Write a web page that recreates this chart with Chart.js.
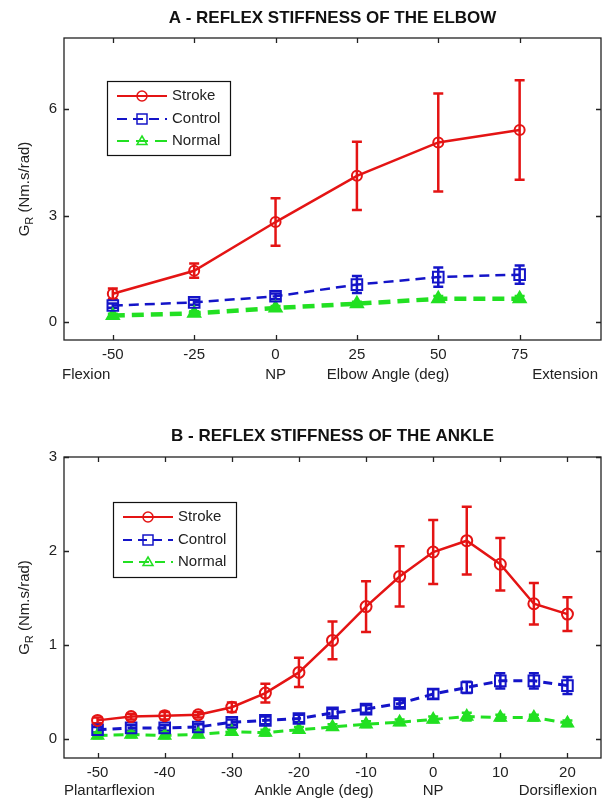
<!DOCTYPE html>
<html>
<head>
<meta charset="utf-8">
<script src="https://cdn.jsdelivr.net/npm/chart.js@4.4.1/dist/chart.umd.min.js"></script>
<style>
  body { margin: 0; background: #fff; width: 606px; height: 802px; overflow: hidden; }
  canvas { position: absolute; left: 0; }
  #elbowChart { top: 0; }
  #ankleChart { top: 410px; }
</style>
</head>
<body>
<canvas id="elbowChart" width="606" height="410"></canvas>
<canvas id="ankleChart" width="606" height="392"></canvas>
<script>
// ---- data: A - elbow ----
const elbowAngles = [-50, -25, 0, 25, 50, 75];
const elbowStroke = [0.80, 1.45, 2.82, 4.12, 5.06, 5.41];
const elbowStrokeErr = [0.15, 0.20, 0.67, 0.96, 1.38, 1.40];
const elbowControl = [0.47, 0.56, 0.73, 1.06, 1.27, 1.34];
const elbowControlErr = [0.06, 0.07, 0.08, 0.24, 0.27, 0.26];
const elbowNormal = [0.19, 0.25, 0.40, 0.52, 0.66, 0.66];
const elbowNormalErr = [0.05, 0.06, 0.06, 0.06, 0.08, 0.08];
const elbowXTicks = [-50, -25, 0, 25, 50, 75];
const elbowYTicks = [0, 3, 6];

// ---- data: B - ankle ----
const ankleAngles = [-50, -45, -40, -35, -30, -25, -20, -15, -10, -5, 0, 5, 10, 15, 20];
const ankleStroke = [0.20, 0.24, 0.25, 0.26, 0.34, 0.49, 0.71, 1.05, 1.41, 1.73, 1.99, 2.11, 1.86, 1.44, 1.33];
const ankleStrokeErr = [0.03, 0.03, 0.04, 0.03, 0.05, 0.10, 0.155, 0.20, 0.27, 0.32, 0.34, 0.36, 0.28, 0.22, 0.18];
const ankleControl = [0.10, 0.12, 0.12, 0.13, 0.18, 0.20, 0.22, 0.28, 0.32, 0.38, 0.48, 0.55, 0.62, 0.62, 0.57];
const ankleControlErr = [0.03, 0.03, 0.03, 0.03, 0.03, 0.04, 0.04, 0.04, 0.04, 0.04, 0.05, 0.06, 0.08, 0.08, 0.09];
const ankleNormal = [0.04, 0.05, 0.04, 0.05, 0.08, 0.07, 0.10, 0.13, 0.16, 0.18, 0.21, 0.24, 0.23, 0.23, 0.17];
const ankleNormalErr = [0.03, 0.03, 0.03, 0.03, 0.03, 0.03, 0.03, 0.03, 0.03, 0.03, 0.03, 0.04, 0.03, 0.03, 0.03];
const ankleXTicks = [-50, -40, -30, -20, -10, 0, 10, 20];
const ankleYTicks = [0, 1, 2, 3];

const seriesNames = ["Stroke", "Control", "Normal"];

const RED = "#e41414", BLUE = "#1414c8", GREEN = "#22e022";
const FONT = "'Liberation Sans', Arial, sans-serif";
Chart.defaults.font.family = FONT;

function drawMarker(ctx, style, x, y, r, color) {
  ctx.save();
  ctx.setLineDash([]);
  ctx.strokeStyle = color;
  ctx.lineWidth = 1.5;
  ctx.beginPath();
  if (style === "circle") ctx.arc(x, y, r, 0, Math.PI * 2);
  else if (style === "rect") ctx.rect(x - r, y - r, 2 * r, 2 * r);
  else { ctx.moveTo(x, y - r); ctx.lineTo(x + r, y + r * 0.7); ctx.lineTo(x - r, y + r * 0.7); ctx.closePath(); }
  ctx.stroke();
  ctx.restore();
}

function decoPlugin(cfg) {
  return {
    id: "deco",
    beforeDatasetsDraw(chart) {
      // error bars
      const ctx = chart.ctx, xs = chart.scales.x, ys = chart.scales.y;
      chart.data.datasets.forEach(ds => {
        ctx.save();
        ctx.strokeStyle = ds.borderColor;
        ctx.lineWidth = 2.5;
        ctx.setLineDash([]);
        ds.data.forEach((p, i) => {
          const e = ds.err[i];
          const px = xs.getPixelForValue(p.x);
          const y1 = ys.getPixelForValue(p.y - e), y2 = ys.getPixelForValue(p.y + e);
          ctx.beginPath();
          ctx.moveTo(px, y1); ctx.lineTo(px, y2);
          ctx.moveTo(px - 5, y1); ctx.lineTo(px + 5, y1);
          ctx.moveTo(px - 5, y2); ctx.lineTo(px + 5, y2);
          ctx.stroke();
        });
        ctx.restore();
      });
    },
    afterDraw(chart) {
      const ctx = chart.ctx, a = chart.chartArea, xs = chart.scales.x, ys = chart.scales.y;
      ctx.save();
      // frame + inner ticks
      ctx.strokeStyle = "#222";
      ctx.lineWidth = 1.3;
      ctx.setLineDash([]);
      ctx.strokeRect(a.left, a.top, a.right - a.left, a.bottom - a.top);
      ctx.beginPath();
      cfg.xTicks.forEach(v => {
        const px = Math.round(xs.getPixelForValue(v)) + 0.5;
        ctx.moveTo(px, a.bottom); ctx.lineTo(px, a.bottom - 5);
        ctx.moveTo(px, a.top); ctx.lineTo(px, a.top + 5);
      });
      cfg.yTicks.forEach(v => {
        const py = Math.round(ys.getPixelForValue(v)) + 0.5;
        ctx.moveTo(a.left, py); ctx.lineTo(a.left + 5, py);
        ctx.moveTo(a.right, py); ctx.lineTo(a.right - 5, py);
      });
      ctx.stroke();

      // title
      ctx.fillStyle = "#111";
      ctx.font = "bold 17px " + FONT;
      ctx.textAlign = "center";
      ctx.textBaseline = "middle";
      ctx.fillText(cfg.title, (a.left + a.right) / 2, cfg.titleY);

      // y label with subscript
      ctx.save();
      ctx.translate(29, (a.top + a.bottom) / 2);
      ctx.rotate(-Math.PI / 2);
      ctx.textBaseline = "alphabetic";
      ctx.textAlign = "left";
      ctx.fillStyle = "#222";
      const g = "G", sub = "R", rest = " (Nm.s/rad)";
      ctx.font = "15px " + FONT; const wG = ctx.measureText(g).width;
      ctx.font = "11px " + FONT; const wS = ctx.measureText(sub).width;
      ctx.font = "15px " + FONT; const wR = ctx.measureText(rest).width;
      const sx = -(wG + wS + wR) / 2;
      ctx.fillText(g, sx, 0);
      ctx.font = "11px " + FONT; ctx.fillText(sub, sx + wG, 4);
      ctx.font = "15px " + FONT; ctx.fillText(rest, sx + wG + wS, 0);
      ctx.restore();

      // second row of x labels
      ctx.fillStyle = "#222";
      ctx.font = "15px " + FONT;
      ctx.textBaseline = "middle";
      cfg.row2.forEach(l => {
        ctx.textAlign = l.align;
        const px = l.value !== undefined ? xs.getPixelForValue(l.value) : l.px;
        ctx.fillText(l.text, px, a.bottom + cfg.row2Dy);
      });

      // legend
      const L = cfg.legend;
      ctx.fillStyle = "#fff";
      ctx.fillRect(L.x, L.y, L.w, L.h);
      ctx.strokeStyle = "#111";
      ctx.lineWidth = 1.2;
      ctx.strokeRect(L.x + 0.5, L.y + 0.5, L.w, L.h);
      chart.data.datasets.forEach((ds, i) => {
        const ry = L.y + L.rows[i];
        ctx.strokeStyle = ds.borderColor;
        ctx.lineWidth = 2;
        ctx.setLineDash(ds.borderDash || []);
        ctx.beginPath();
        ctx.moveTo(L.x + 10, ry); ctx.lineTo(L.x + 60, ry);
        ctx.stroke();
        drawMarker(ctx, ds.pointStyle, L.x + 35, ry, 5, ds.borderColor);
        ctx.fillStyle = "#222";
        ctx.font = "15px " + FONT;
        ctx.textAlign = "left";
        ctx.textBaseline = "middle";
        ctx.fillText(ds.label, L.x + 65, ry);
      });
      ctx.restore();
    }
  };
}

function makeDataset(label, xs, ys, err, color, opts) {
  return Object.assign({
    label: label,
    data: xs.map((x, i) => ({ x: x, y: ys[i] })),
    err: err,
    borderColor: color,
    pointBorderColor: color,
    pointBackgroundColor: "rgba(255,255,255,0)",
    pointBorderWidth: 2,
    borderWidth: 2.5,
    tension: 0,
    fill: false
  }, opts);
}

function makeChart(id, cfg) {
  const h = document.getElementById(id).height;
  return new Chart(document.getElementById(id), {
    type: "line",
    data: { datasets: cfg.datasets },
    options: {
      responsive: false,
      animation: false,
      layout: { padding: { top: cfg.top, right: 5, left: 0, bottom: 0 }, autoPadding: false },
      plugins: { legend: { display: false }, tooltip: { enabled: false } },
      scales: {
        x: {
          type: "linear", min: cfg.xMin, max: cfg.xMax,
          afterBuildTicks: s => { s.ticks = cfg.xTicks.map(v => ({ value: v })); },
          afterFit: s => { s.height = h - cfg.bottom; },
          grid: { display: false, drawTicks: false },
          border: { display: false },
          ticks: { color: "#222", font: { size: 15 }, padding: 6, maxRotation: 0, autoSkip: false }
        },
        y: {
          type: "linear", min: cfg.yMin, max: cfg.yMax,
          afterBuildTicks: s => { s.ticks = cfg.yTicks.map(v => ({ value: v })); },
          afterFit: s => { s.width = 64; },
          grid: { display: false, drawTicks: false },
          border: { display: false },
          ticks: { color: "#222", font: { size: 15 }, padding: 7 }
        }
      }
    },
    plugins: [decoPlugin(cfg)]
  });
}

makeChart("elbowChart", {
  top: 38, bottom: 340, xMin: -65, xMax: 100, yMin: -0.5, yMax: 8,
  xTicks: elbowXTicks, yTicks: elbowYTicks,
  title: "A - REFLEX STIFFNESS OF THE ELBOW", titleY: 18,
  row2Dy: 35,
  row2: [
    { text: "Flexion", px: 62, align: "left" },
    { text: "NP", value: 0, align: "center" },
    { text: "Elbow Angle (deg)", px: 388, align: "center" },
    { text: "Extension", px: 598, align: "right" }
  ],
  legend: { x: 107, y: 81, w: 123, h: 74, rows: [15, 38, 60] },
  datasets: [
    makeDataset(seriesNames[0], elbowAngles, elbowStroke, elbowStrokeErr, RED,
      { pointStyle: "circle", pointRadius: 5 }),
    makeDataset(seriesNames[1], elbowAngles, elbowControl, elbowControlErr, BLUE,
      { pointStyle: "rect", pointRadius: 7.5, borderDash: [10, 6] }),
    makeDataset(seriesNames[2], elbowAngles, elbowNormal, elbowNormalErr, GREEN,
      { pointStyle: "triangle", pointRadius: 7, borderWidth: 4.5, borderDash: [12, 7], pointBackgroundColor: GREEN })
  ]
});

makeChart("ankleChart", {
  top: 47, bottom: 348, xMin: -55, xMax: 25, yMin: -0.2, yMax: 3,
  xTicks: ankleXTicks, yTicks: ankleYTicks,
  title: "B - REFLEX STIFFNESS OF THE ANKLE", titleY: 26,
  row2Dy: 33,
  row2: [
    { text: "Plantarflexion", px: 64, align: "left" },
    { text: "Ankle Angle (deg)", px: 314, align: "center" },
    { text: "NP", value: 0, align: "center" },
    { text: "Dorsiflexion", px: 597, align: "right" }
  ],
  legend: { x: 113, y: 92, w: 123, h: 75, rows: [15, 38, 60] },
  datasets: [
    makeDataset(seriesNames[0], ankleAngles, ankleStroke, ankleStrokeErr, RED,
      { pointStyle: "circle", pointRadius: 5.5 }),
    makeDataset(seriesNames[1], ankleAngles, ankleControl, ankleControlErr, BLUE,
      { pointStyle: "rect", pointRadius: 7.5, borderWidth: 3, borderDash: [9, 6] }),
    makeDataset(seriesNames[2], ankleAngles, ankleNormal, ankleNormalErr, GREEN,
      { pointStyle: "triangle", pointRadius: 6.5, borderWidth: 3, borderDash: [10, 6], pointBackgroundColor: GREEN })
  ]
});
</script>
</body>
</html>
